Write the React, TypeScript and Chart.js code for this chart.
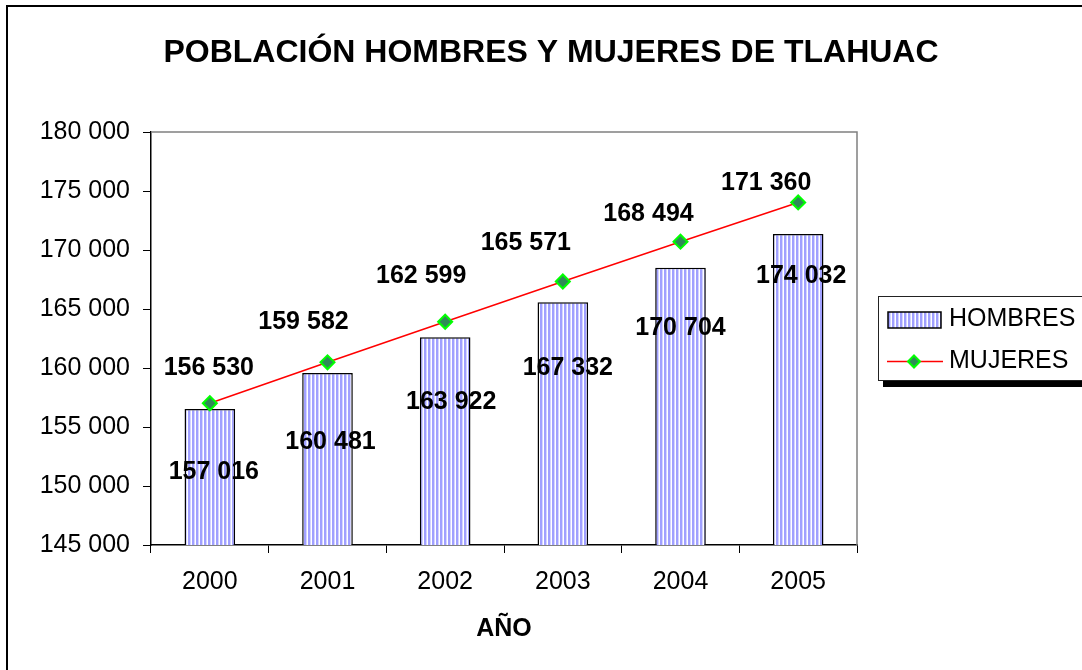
import React, { useEffect, useRef } from "react";
import { Chart, registerables } from "chart.js";
Chart.register(...registerables);

const years = ["2000", "2001", "2002", "2003", "2004", "2005"];
const hombres = [156530, 159582, 162599, 165571, 168494, 171360];
const mujeres = [157016, 160481, 163922, 167332, 170704, 174032];
const yMin = 145000;
const yMax = 180000;
const yStep = 5000;
const chartTitle = "POBLACIÓN HOMBRES Y MUJERES DE TLAHUAC";
const xTitle = "AÑO";
const seriesNames = ["HOMBRES", "MUJERES"];

// label placement offsets (px) relative to the bar top / line point
const hombresLabelShift = [[-1, -41], [-24, -51], [-24, -61], [-37, -59], [-32, -54], [-32, -51]];
const mujeresLabelShift = [[4, 69], [3, 80], [6, 80], [5, 87], [0, 86], [3, 74]];

const FAMILY = "'Liberation Sans', Arial, sans-serif";
const fmt = (v: number) => String(Math.round(v)).replace(/\B(?=(\d{3})+(?!\d))/g, " ");

function drawDiamond(ctx: CanvasRenderingContext2D, x: number, y: number, r: number) {
  ctx.beginPath();
  ctx.moveTo(x, y - r);
  ctx.lineTo(x + r, y);
  ctx.lineTo(x, y + r);
  ctx.lineTo(x - r, y);
  ctx.closePath();
  ctx.fillStyle = "#2e8b57";
  ctx.fill();
  ctx.strokeStyle = "#00ff00";
  ctx.lineWidth = 2;
  ctx.stroke();
}

export default function App() {
  const ref = useRef<HTMLCanvasElement>(null);
  useEffect(() => {
    const canvas = ref.current!;
    const pc = document.createElement("canvas");
    pc.width = 4;
    pc.height = 10;
    const p = pc.getContext("2d")!;
    const cols = ["#a0a0ff", "#a0a0ff", "#d4d4ff", "#ffffff"];
    cols.forEach((c, i) => {
      p.fillStyle = c;
      p.fillRect(i, 0, 1, 10);
    });
    const ctx0 = canvas.getContext("2d")!;
    const pattern = ctx0.createPattern(pc, "repeat")!;

    const decor = {
      id: "decor",
      beforeDraw(chart: any) {
        const ctx = chart.ctx as CanvasRenderingContext2D;
        ctx.save();
        ctx.fillStyle = "#fff";
        ctx.fillRect(0, 0, chart.width, chart.height);
        ctx.strokeStyle = "#000";
        ctx.lineWidth = 2;
        ctx.beginPath();
        ctx.moveTo(7, 680);
        ctx.lineTo(7, 6);
        ctx.lineTo(1090, 6);
        ctx.stroke();
        ctx.restore();
      },
      afterDraw(chart: any) {
        const ctx = chart.ctx as CanvasRenderingContext2D;
        const a = chart.chartArea;
        ctx.save();
        // plot border (top/right)
        ctx.strokeStyle = "#808080";
        ctx.lineWidth = 1.5;
        ctx.beginPath();
        ctx.moveTo(a.left, a.top);
        ctx.lineTo(a.right, a.top);
        ctx.lineTo(a.right, a.bottom);
        ctx.stroke();

        // title
        ctx.fillStyle = "#000";
        ctx.font = `bold 32px ${FAMILY}`;
        ctx.textAlign = "center";
        ctx.textBaseline = "middle";
        ctx.fillText(chartTitle, 551, 53);

        // data labels
        ctx.font = `bold 25px ${FAMILY}`;
        const mb = chart.getDatasetMeta(1);
        const ml = chart.getDatasetMeta(0);
        hombres.forEach((v, i) => {
          const el = mb.data[i];
          ctx.fillText(fmt(v), el.x + hombresLabelShift[i][0], el.y + hombresLabelShift[i][1]);
        });
        mujeres.forEach((v, i) => {
          const el = ml.data[i];
          ctx.fillText(fmt(v), el.x + mujeresLabelShift[i][0], el.y + mujeresLabelShift[i][1]);
        });

        // legend
        ctx.fillStyle = "#000";
        ctx.fillRect(883, 381, 210, 6);
        ctx.fillStyle = "#fff";
        ctx.fillRect(878, 296, 210, 85);
        ctx.strokeStyle = "#222";
        ctx.lineWidth = 1;
        ctx.strokeRect(878.5, 296.5, 210, 84);
        ctx.fillStyle = pattern;
        ctx.fillRect(888, 312, 53, 16);
        ctx.strokeStyle = "#000";
        ctx.lineWidth = 1.5;
        ctx.strokeRect(888, 312, 53, 16);
        ctx.strokeStyle = "#ff0000";
        ctx.lineWidth = 1.5;
        ctx.beginPath();
        ctx.moveTo(887, 361.5);
        ctx.lineTo(943, 361.5);
        ctx.stroke();
        drawDiamond(ctx, 914, 361.5, 6);
        ctx.fillStyle = "#000";
        ctx.font = `25px ${FAMILY}`;
        ctx.textAlign = "left";
        ctx.fillText(seriesNames[0], 949, 319);
        ctx.fillText(seriesNames[1], 949, 361);
        ctx.restore();
      },
    };

    const chart = new Chart(canvas, {
      type: "bar",
      data: {
        labels: years,
        datasets: [
          {
            type: "line",
            label: seriesNames[1],
            data: mujeres,
            borderColor: "#ff0000",
            borderWidth: 1.5,
            pointStyle: "rectRot",
            pointRadius: 7,
            pointBackgroundColor: "#2e8b57",
            pointBorderColor: "#00ff00",
            pointBorderWidth: 2,
            tension: 0,
            order: 0,
          } as any,
          {
            type: "bar",
            label: seriesNames[0],
            data: hombres,
            backgroundColor: pattern as any,
            borderColor: "#000",
            borderWidth: 1.5,
            barPercentage: 0.43,
            categoryPercentage: 1,
            order: 1,
          },
        ],
      },
      options: {
        responsive: false,
        animation: false,
        layout: { padding: { left: 0, right: 225, top: 132, bottom: 0 } },
        plugins: { legend: { display: false }, title: { display: false }, tooltip: { enabled: false } },
        scales: {
          x: {
            offset: true,
            grid: { offset: true, drawOnChartArea: false, drawTicks: true, tickLength: 8, color: "#000", lineWidth: 1 },
            border: { display: true, color: "#000", width: 1.5 },
            ticks: { color: "#000", font: { size: 25, family: FAMILY }, padding: 14, maxRotation: 0 },
            title: {
              display: true,
              text: xTitle,
              color: "#000",
              font: { size: 25, weight: "bold", family: FAMILY },
              padding: { top: 0, bottom: 26 },
            },
            afterFit: (s: any) => {
              s.height = 125;
            },
          },
          y: {
            min: yMin,
            max: yMax,
            ticks: {
              stepSize: yStep,
              callback: (v: any) => fmt(Number(v)),
              color: "#000",
              font: { size: 25, family: FAMILY },
              padding: 13,
            },
            grid: { drawOnChartArea: false, drawTicks: true, tickLength: 8, color: "#000" },
            border: { display: true, color: "#000", width: 1.5 },
            afterFit: (s: any) => {
              s.width = 151;
            },
          },
        },
      } as any,
      plugins: [decor],
    });
    return () => chart.destroy();
  }, []);
  return (
    <div style={{ position: "absolute", left: 0, top: 0, width: 1082, height: 670, background: "#fff" }}>
      <canvas ref={ref} width={1082} height={670} style={{ display: "block", width: 1082, height: 670 }} />
    </div>
  );
}
